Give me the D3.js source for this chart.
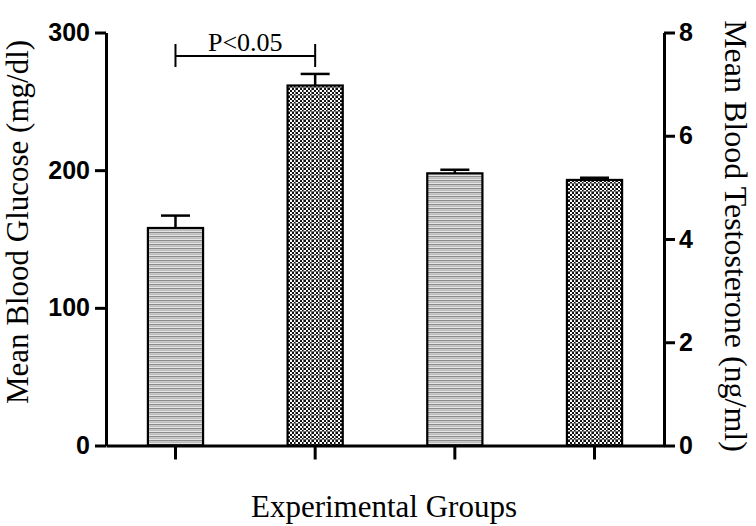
<!DOCTYPE html>
<html>
<head>
<meta charset="utf-8">
<script src="https://cdn.jsdelivr.net/npm/d3@7"></script>
<style>
    body { margin: 0; background: #fff; }
    svg { display: block; }
</style>
</head>
<body>
<div id="chart"></div>
<script>
// data
const groups = ["G1", "G2", "G3", "G4"];
const meanValues = [158, 261.5, 197.7, 192.9];   // mg/dl on the left axis
const errValues = [9, 8.4, 2.6, 1.6];
const barPatterns = ["stripes", "checks", "stripes", "checks"];
const glucoseTicks = [0, 100, 200, 300];
const testoTicks = [0, 2, 4, 6, 8];

const width = 756, height = 526;
const plotLeft = 106, plotRight = 664;
const plotTop = 32.5, plotBottom = 445.5;

const svg = d3.select("#chart").append("svg")
    .attr("width", width)
    .attr("height", height);

// patterns for the bar fills
const defs = svg.append("defs");

const stripes = defs.append("pattern")
    .attr("id", "stripes")
    .attr("patternUnits", "userSpaceOnUse")
    .attr("width", 4).attr("height", 4);
stripes.append("rect").attr("width", 4).attr("height", 4).attr("fill", "#e4e4e4");
stripes.append("rect").attr("y", 0).attr("width", 4).attr("height", 1.3).attr("fill", "#8c8c8c");
stripes.append("rect").attr("y", 2).attr("width", 4).attr("height", 0.8).attr("fill", "#b4b4b4");

const checks = defs.append("pattern")
    .attr("id", "checks")
    .attr("patternUnits", "userSpaceOnUse")
    .attr("width", 8).attr("height", 8);
checks.append("rect").attr("width", 8).attr("height", 8).attr("fill", "#fff");
for (let i = 0; i < 4; i++) {
    for (let j = 0; j < 4; j++) {
        if ((i + j) % 2 === 0) {
            checks.append("rect").attr("x", i * 2).attr("y", j * 2)
                .attr("width", 2).attr("height", 2).attr("fill", "#111");
        }
    }
}
checks.append("rect").attr("x", 7).attr("width", 1).attr("height", 8).attr("fill", "#777");
checks.append("rect").attr("y", 7).attr("width", 8).attr("height", 1).attr("fill", "#777");

// scales
const x = d3.scaleBand()
    .domain(groups)
    .range([plotLeft, plotRight])
    .paddingInner(0.605)
    .paddingOuter(0.3);

const yLeft = d3.scaleLinear().domain([0, 300]).range([plotBottom, plotTop]);
const yRight = d3.scaleLinear().domain([0, 8]).range([plotBottom, plotTop]);

// bars
svg.selectAll(".bar")
    .data(groups)
    .enter().append("rect")
    .attr("class", "bar")
    .attr("x", d => x(d))
    .attr("y", (d, i) => yLeft(meanValues[i]))
    .attr("width", x.bandwidth())
    .attr("height", (d, i) => plotBottom - yLeft(meanValues[i]))
    .attr("fill", (d, i) => "url(#" + barPatterns[i] + ")")
    .attr("stroke", "#000")
    .attr("stroke-width", 2.2);

// error bars (upper only)
const capW = 29;
groups.forEach((g, i) => {
    const cx = x(g) + x.bandwidth() / 2;
    const top = yLeft(meanValues[i] + errValues[i]);
    svg.append("line")
        .attr("x1", cx).attr("x2", cx)
        .attr("y1", yLeft(meanValues[i])).attr("y2", top)
        .attr("stroke", "#000").attr("stroke-width", 2.5);
    svg.append("line")
        .attr("x1", cx - capW / 2).attr("x2", cx + capW / 2)
        .attr("y1", top).attr("y2", top)
        .attr("stroke", "#000").attr("stroke-width", 2.5);
});

// axes
const tickFont = "'Liberation Sans', Arial, sans-serif";

const leftAxis = svg.append("g")
    .attr("transform", `translate(${plotLeft},0)`)
    .call(d3.axisLeft(yLeft).tickValues(glucoseTicks).tickSize(11).tickSizeOuter(0).tickPadding(5));

const rightAxis = svg.append("g")
    .attr("transform", `translate(${plotRight},0)`)
    .call(d3.axisRight(yRight).tickValues(testoTicks).tickSize(11).tickSizeOuter(0).tickPadding(4));

const bottomAxis = svg.append("g")
    .attr("transform", `translate(0,${plotBottom})`)
    .call(d3.axisBottom(x).tickSize(14).tickSizeOuter(0).tickFormat(""));

[leftAxis, rightAxis, bottomAxis].forEach(ax => {
    ax.select(".domain").attr("stroke", "#000").attr("stroke-width", 3);
    ax.selectAll(".tick line").attr("stroke", "#000").attr("stroke-width", 3);
    ax.selectAll(".tick text")
        .attr("fill", "#000")
        .style("font-family", tickFont)
        .style("font-weight", "bold")
        .style("font-size", "25px");
});

// axis titles
const serif = "'Liberation Serif', 'Times New Roman', serif";

svg.append("text")
    .attr("transform", "translate(28,222) rotate(-90)")
    .attr("text-anchor", "middle")
    .style("font-family", serif)
    .style("font-size", "31px")
    .text("Mean Blood Glucose (mg/dl)");

svg.append("text")
    .attr("transform", "translate(725,236) rotate(90)")
    .attr("text-anchor", "middle")
    .style("font-family", serif)
    .style("font-size", "32px")
    .text("Mean Blood Testosterone (ng/ml)");

svg.append("text")
    .attr("x", 384).attr("y", 517)
    .attr("text-anchor", "middle")
    .style("font-family", serif)
    .style("font-size", "31px")
    .text("Experimental Groups");

// significance bracket between group 1 and 2
const bx1 = x(groups[0]) + x.bandwidth() / 2;
const bx2 = x(groups[1]) + x.bandwidth() / 2;
const by = 56;
svg.append("path")
    .attr("d", `M${bx1},${by - 12}V${by + 11}M${bx1},${by}H${bx2}M${bx2},${by - 12}V${by + 11}`)
    .attr("fill", "none")
    .attr("stroke", "#000")
    .attr("stroke-width", 2);

svg.append("text")
    .attr("x", (bx1 + bx2) / 2).attr("y", 51)
    .attr("text-anchor", "middle")
    .style("font-family", serif)
    .style("font-size", "26px")
    .text("P<0.05");
</script>
</body>
</html>
